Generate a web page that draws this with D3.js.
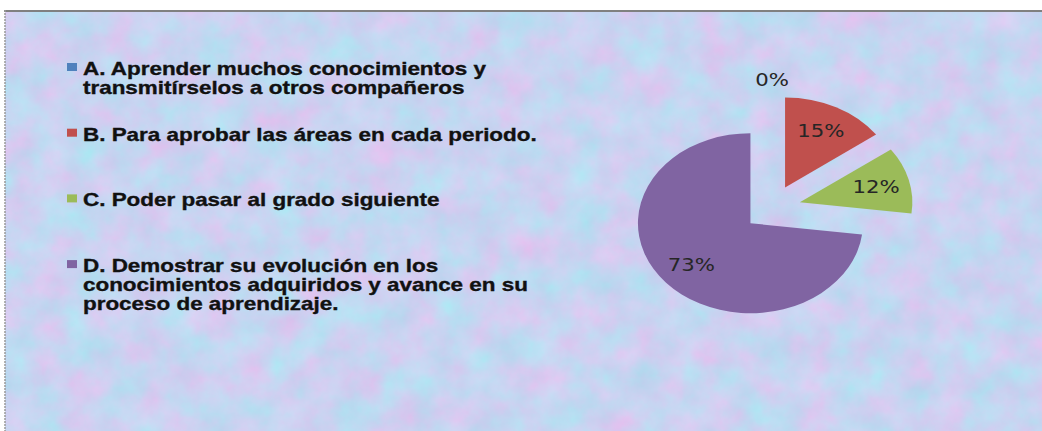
<!DOCTYPE html>
<html>
<head>
<meta charset="utf-8">
<script src="https://cdn.jsdelivr.net/npm/d3@7"></script>
<style>
  html, body { margin: 0; padding: 0; background: #fff; }
  #chart { width: 1042px; height: 431px; }
</style>
</head>
<body>
<div id="chart"></div>
<script>
// données du graphique
const categorias = ["A", "B", "C", "D"];
const valores = [0, 15, 12, 73];
const etiquetas = ["0%", "15%", "12%", "73%"];
const leyenda = [
  ["A. Aprender muchos conocimientos y", "transmitírselos a otros compañeros"],
  ["B. Para aprobar las áreas en cada periodo."],
  ["C. Poder pasar al grado siguiente"],
  ["D. Demostrar su evolución en los", "conocimientos adquiridos y avance en su", "proceso de aprendizaje."]
];
const colores = ["#4f81bd", "#c0504d", "#9bbb59", "#8064a2"];

const width = 1042, height = 431;
const stretch = 1.25;           // l'image d'origine est étirée en largeur
const cx = 772, cy = 208, R = 90, explode = 23;

const svg = d3.select("#chart").append("svg")
  .attr("width", width)
  .attr("height", height);

// fond texturé (bleu pâle, taches rosées)
const defs = svg.append("defs");
const f = defs.append("filter").attr("id", "tex")
  .attr("x", 0).attr("y", 0).attr("width", "100%").attr("height", "100%")
  .attr("color-interpolation-filters", "sRGB");
f.append("feTurbulence").attr("type", "fractalNoise")
  .attr("baseFrequency", 0.03).attr("numOctaves", 5).attr("seed", 11);
f.append("feColorMatrix").attr("type", "matrix").attr("values",
  "0.26 0 0 0 0.655  " +
  "-0.14 0.09 0 0 0.855  " +
  "0 0.04 0 0 0.925  " +
  "0 0 0 0 1");

svg.append("rect")
  .attr("x", 5).attr("y", 10)
  .attr("width", width - 5).attr("height", height - 10)
  .attr("filter", "url(#tex)");

// bordure
svg.append("line").attr("x1", 4).attr("x2", width).attr("y1", 11).attr("y2", 11)
  .attr("stroke", "#808080").attr("stroke-width", 2);
svg.append("line").attr("x1", 5).attr("x2", 5).attr("y1", 10).attr("y2", height)
  .attr("stroke", "#9a9a9a").attr("stroke-width", 1.5).attr("stroke-dasharray", "2 1");

// camembert
const pie = d3.pie().sort(null).value(d => d)(valores);
const arc = d3.arc().innerRadius(0).outerRadius(R);
const labelArc = d3.arc().innerRadius(R * 0.7).outerRadius(R * 0.7);

const g = svg.append("g")
  .attr("transform", `translate(${cx},${cy}) scale(${stretch},1)`);

function offset(d, dist) {
  const a = (d.startAngle + d.endAngle) / 2;
  return [Math.sin(a) * dist, -Math.cos(a) * dist];
}

g.selectAll("path")
  .data(pie)
  .join("path")
  .attr("d", arc)
  .attr("fill", (d, i) => colores[i])
  .attr("transform", d => `translate(${offset(d, explode)})`);

g.selectAll("text")
  .data(pie)
  .join("text")
  .attr("transform", d => {
    if (d.value === 0) {
      const [x, y] = offset(d, R + explode + 15);
      return `translate(${x},${y})`;
    }
    const [ox, oy] = offset(d, explode);
    const [x, y] = labelArc.centroid(d);
    return `translate(${x + ox},${y + oy})`;
  })
  .attr("text-anchor", "middle")
  .attr("dy", "0.35em")
  .style("font", "17px 'DejaVu Sans', sans-serif")
  .style("fill", "#262626")
  .text((d, i) => etiquetas[i]);

// légende
const lx = 83, ly0 = 75, step = 65.7, lh = 19;
const leg = svg.append("g");

const items = leg.selectAll("g")
  .data(leyenda)
  .join("g")
  .attr("transform", (d, i) => `translate(0,${ly0 + i * step})`);

items.append("rect")
  .attr("x", 67).attr("y", -12)
  .attr("width", 10).attr("height", 8)
  .attr("fill", (d, i) => colores[i]);

const txt = items.selectAll("text")
  .data(d => d)
  .join("text")
  .attr("y", (d, j) => j * lh)
  .style("font", "bold 18px 'Liberation Sans', Arial, sans-serif")
  .style("fill", "#111")
  .style("stroke", "#111")
  .style("stroke-width", 0.35)
  .text(d => d);

// largeur étirée : la ligne B fait ~454px dans l'original
const natB = items.filter((d, i) => i === 1).select("text").node().getComputedTextLength();
const sx = 454 / natB;
txt.attr("transform", `translate(${lx},0) scale(${sx},1)`);
</script>
</body>
</html>
